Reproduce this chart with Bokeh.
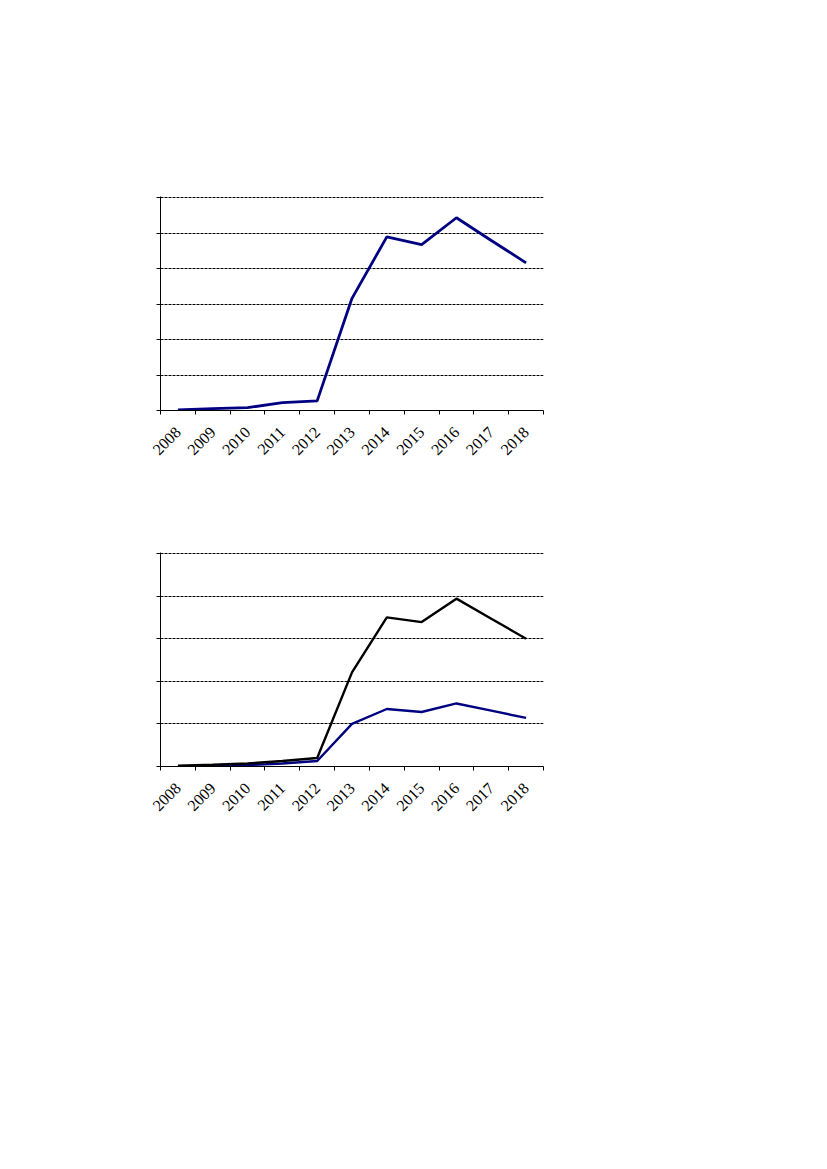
from math import pi
from bokeh.plotting import figure
from bokeh.layouts import column
from bokeh.models import FixedTicker, Range1d
from bokeh.embed import file_html
from bokeh.resources import INLINE

years = ["2008", "2009", "2010", "2011", "2012", "2013", "2014", "2015", "2016", "2017", "2018"]

# Chart 1 (single series)
series_top = [0.2, 0.5, 0.8, 2.2, 2.7, 31.6, 48.9, 46.7, 54.3, 47.9, 41.6]
top_grid = [0, 10, 20, 30, 40, 50, 60]

# Chart 2 (two series)
series_black = [0.02, 0.04, 0.07, 0.13, 0.20, 2.21, 3.50, 3.39, 3.94, 3.47, 3.00]
series_blue = [0.00, 0.01, 0.03, 0.07, 0.13, 1.00, 1.35, 1.28, 1.48, 1.31, 1.14]
bottom_grid = [0, 1, 2, 3, 4, 5]

NAVY = "#000080"
xs = [i + 0.5 for i in range(len(years))]
bounds = list(range(len(years) + 1))
labels = {x: y for x, y in zip(xs, years)}


def make_fig(grid, border_top):
    span = grid[-1] - grid[0]
    top = grid[-1] + span / 213.0
    p = figure(frame_width=383, frame_height=214, output_backend="svg",
               toolbar_location=None, min_border_left=160, min_border_right=30,
               min_border_top=border_top, min_border_bottom=60,
               x_range=Range1d(0, len(years)), y_range=Range1d(grid[0], top))
    p.outline_line_color = None
    p.background_fill_color = "white"
    p.border_fill_color = "white"
    xa = p.xaxis[0]
    xa.ticker = FixedTicker(ticks=xs, minor_ticks=bounds)
    xa.major_label_overrides = labels
    xa.major_tick_line_color = None
    xa.minor_tick_line_color = "black"
    xa.minor_tick_in = 0
    xa.minor_tick_out = 4
    xa.axis_line_color = "black"
    xa.major_label_orientation = pi / 4
    xa.major_label_text_font = "Liberation Serif"
    xa.major_label_text_font_size = "16px"
    xa.major_label_text_color = "black"
    xa.major_label_standoff = 13
    ya = p.yaxis[0]
    ya.ticker = FixedTicker(ticks=grid)
    ya.major_label_overrides = {g: "" for g in grid}
    ya.major_tick_in = 0
    ya.major_tick_out = 4
    ya.minor_tick_line_color = None
    ya.axis_line_color = "black"
    ya.major_tick_line_color = "black"
    p.xgrid.grid_line_color = None
    p.ygrid.ticker = FixedTicker(ticks=grid[1:])
    p.ygrid.grid_line_color = "black"
    p.ygrid.grid_line_dash = "3 1"
    p.ygrid.grid_line_width = 1
    return p


p1 = make_fig(top_grid, 196)
p1.line(xs, series_top, line_color=NAVY, line_width=2.8)

p2 = make_fig(bottom_grid, 82)
p2.line(xs, series_blue, line_color=NAVY, line_width=2.4)
p2.line(xs, series_black, line_color="black", line_width=2.4)

layout = column(p1, p2, spacing=0)
open("out.html", "w").write(file_html(layout, INLINE))
